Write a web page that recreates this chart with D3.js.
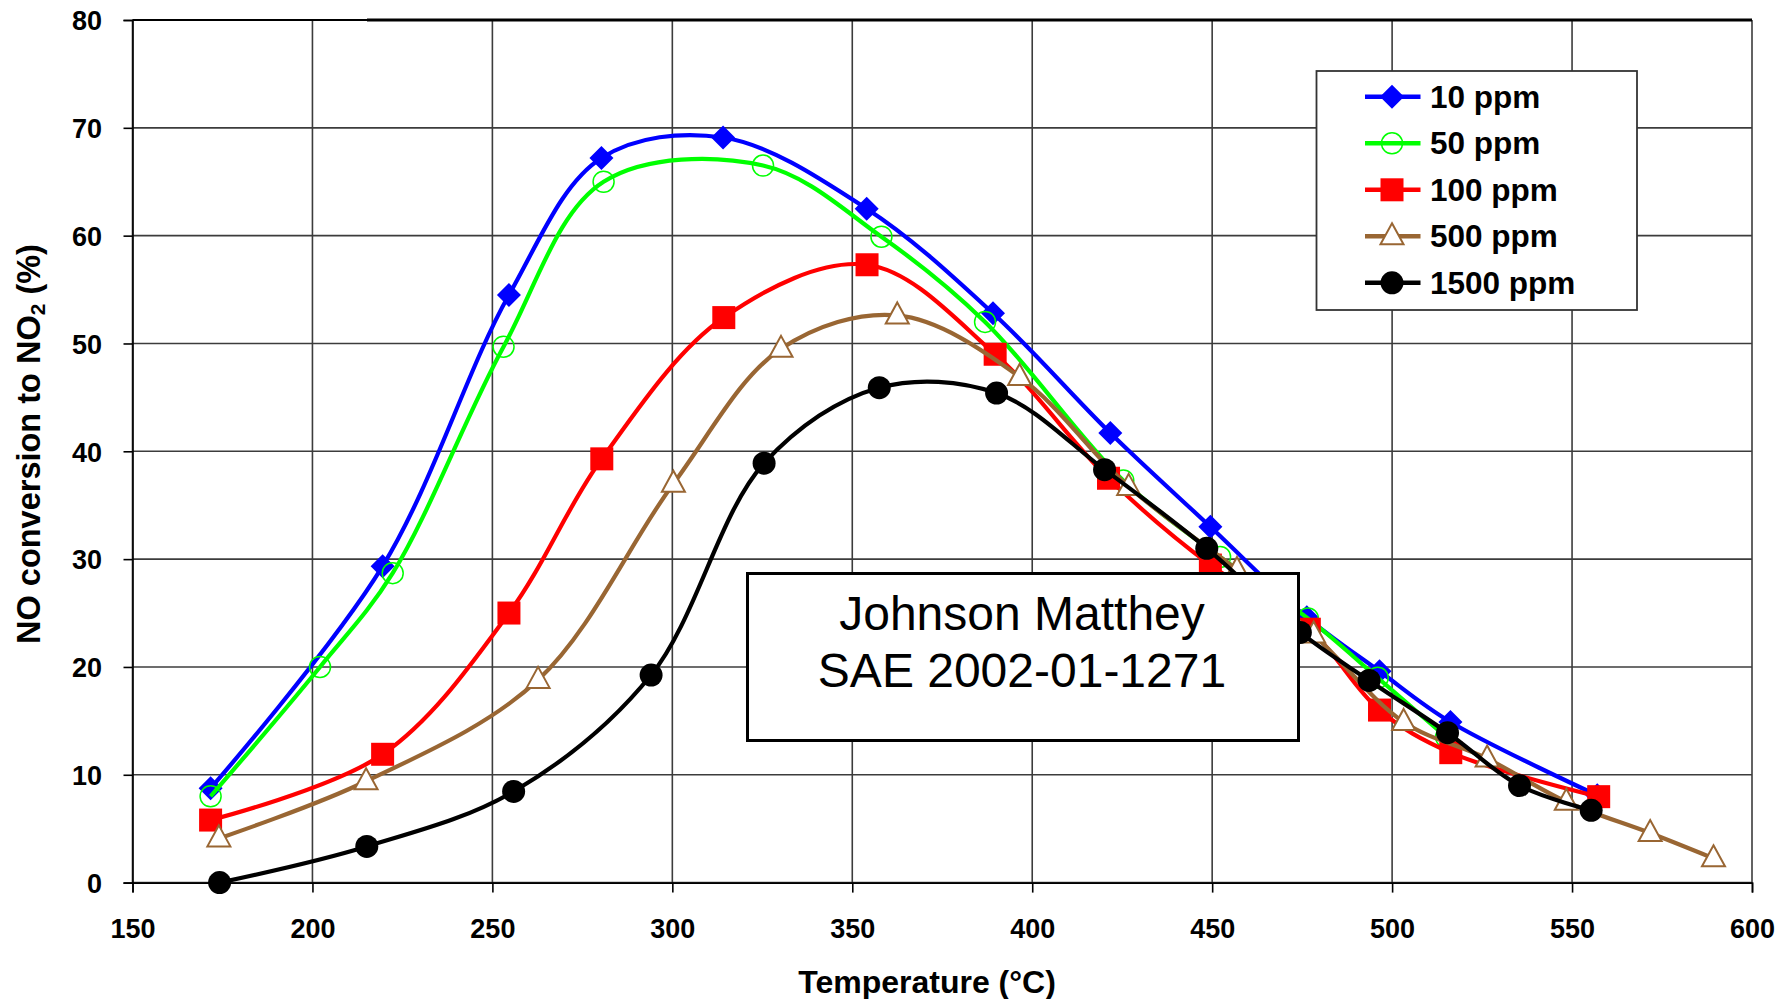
<!DOCTYPE html>
<html>
<head>
<meta charset="utf-8">
<script src="https://cdn.jsdelivr.net/npm/d3@7"></script>
<style>
  body { margin: 0; background: #fff; }
  text { font-family: "Liberation Sans", Arial, sans-serif; }
</style>
</head>
<body>
<div id="chart"></div>
<script>
// series (temperature in degC, conversion in %)
var seriesNames = ["10 ppm", "50 ppm", "100 ppm", "500 ppm", "1500 ppm"];

var temp10 = [171.7, 219.5, 254.6, 280.3, 314.1, 354.0, 389.1, 421.7, 449.5, 476.3, 496.5, 516.2, 557.0];
var conv10 = [8.75, 29.35, 54.5, 67.2, 69.1, 62.5, 52.8, 41.7, 33.0, 24.6, 19.6, 14.9, 8.1];

var temp50 = [171.7, 202.1, 222.3, 253.1, 280.9, 325.2, 358.1, 386.9, 425.3, 452.2, 476.6, 496.0, 515.0];
var conv50 = [8.0, 20.0, 28.7, 49.7, 65.0, 66.5, 59.9, 52.0, 37.3, 30.2, 24.5, 19.0, 13.5];

var temp100 = [171.7, 219.5, 254.6, 280.4, 314.3, 354.1, 389.7, 421.2, 449.5, 477.0, 496.5, 516.3, 557.4];
var conv100 = [5.8, 11.9, 25.0, 39.3, 52.4, 57.3, 49.0, 37.5, 29.45, 23.5, 16.0, 12.05, 7.97];

var temp500 = [174.0, 214.9, 262.7, 300.3, 330.2, 362.5, 396.5, 426.8, 456.9, 478.2, 503.2, 526.4, 548.4, 571.7, 589.3];
var conv500 = [4.1, 9.4, 18.8, 37.0, 49.5, 52.6, 46.9, 36.7, 29.0, 23.0, 14.9, 11.5, 7.5, 4.6, 2.25];

var temp1500 = [174.2, 215.1, 255.9, 294.1, 325.5, 357.5, 390.1, 420.1, 448.5, 474.5, 493.6, 515.4, 535.4, 555.3];
var conv1500 = [0.0, 3.35, 8.45, 19.25, 38.9, 45.9, 45.4, 38.3, 31.0, 23.2, 18.75, 13.9, 9.0, 6.7];

var xTicks = [150, 200, 250, 300, 350, 400, 450, 500, 550, 600];
var yTicks = [0, 10, 20, 30, 40, 50, 60, 70, 80];
var noteLines = ["Johnson Matthey", "SAE 2002-01-1271"];

// styles per series
var lineColors = ["#0000ff", "#00ff00", "#ff0000", "#996633", "#000000"];
var markerKinds = ["diamond", "ring", "square", "triangle", "dot"];

var width = 1788, height = 999;
var margin = {top: 20, right: 36, bottom: 116.4, left: 132.5};

var svg = d3.select("#chart").append("svg")
    .attr("width", width)
    .attr("height", height);

var x = d3.scaleLinear().domain([150, 600]).range([margin.left, width - margin.right]);
var y = d3.scaleLinear().domain([0, 80]).range([height - margin.bottom, margin.top]);

// grid
svg.append("g").selectAll("line").data(yTicks).join("line")
    .attr("x1", x(150)).attr("x2", x(600))
    .attr("y1", d => y(d)).attr("y2", d => y(d))
    .attr("stroke", "#3c3c3c").attr("stroke-width", 1.6);
svg.append("g").selectAll("line").data(xTicks).join("line")
    .attr("y1", y(0)).attr("y2", y(80))
    .attr("x1", d => x(d)).attr("x2", d => x(d))
    .attr("stroke", "#3c3c3c").attr("stroke-width", 1.6);

// top border is heavier in the original
svg.append("line")
    .attr("x1", x(150)).attr("x2", x(600))
    .attr("y1", y(80)).attr("y2", y(80))
    .attr("stroke", "#000").attr("stroke-width", 2);
svg.append("line")
    .attr("x1", 367).attr("x2", x(600))
    .attr("y1", y(80)).attr("y2", y(80))
    .attr("stroke", "#000").attr("stroke-width", 3);

// axes
var xAxis = svg.append("g")
    .attr("transform", "translate(0," + y(0) + ")")
    .call(d3.axisBottom(x).tickValues(xTicks).tickSize(10).tickPadding(26));
var yAxis = svg.append("g")
    .attr("transform", "translate(" + x(150) + ",0)")
    .call(d3.axisLeft(y).tickValues(yTicks).tickSize(9).tickPadding(21.5));

[xAxis, yAxis].forEach(function(g) {
  g.select(".domain").attr("stroke", "#000").attr("stroke-width", 1.6);
  g.selectAll(".tick line").attr("stroke", "#000").attr("stroke-width", 1.6);
  g.selectAll(".tick text")
      .attr("fill", "#000")
      .style("font-family", "'Liberation Sans', Arial, sans-serif")
      .style("font-size", "27px")
      .style("font-weight", "bold");
});
yAxis.selectAll(".tick text").attr("dy", "0.36em");

// axis titles
svg.append("text")
    .attr("x", 927).attr("y", 993)
    .attr("text-anchor", "middle")
    .style("font-size", "32px").style("font-weight", "bold")
    .text("Temperature (°C)");

var yTitle = svg.append("text")
    .attr("transform", "translate(40,444) rotate(-90)")
    .attr("text-anchor", "middle")
    .style("font-size", "32.5px").style("font-weight", "bold");
yTitle.append("tspan").text("NO conversion to NO");
yTitle.append("tspan").attr("dy", 5).style("font-size", "21px").text("2");
yTitle.append("tspan").attr("dy", -5).text(" (%)");

// marker drawing
function drawMarker(sel, kind, color) {
  if (kind == "diamond") {
    sel.append("path").attr("d", "M0,-12L12,0L0,12L-12,0Z").attr("fill", color);
  } else if (kind == "ring") {
    sel.append("circle").attr("r", 10.5).attr("fill", "none")
        .attr("stroke", color).attr("stroke-width", 1.5);
  } else if (kind == "square") {
    sel.append("rect").attr("x", -11.5).attr("y", -11.5)
        .attr("width", 23).attr("height", 23).attr("fill", color);
  } else if (kind == "triangle") {
    sel.append("path").attr("d", "M0,-13L11.5,8L-11.5,8Z")
        .attr("fill", "#fff").attr("stroke", color).attr("stroke-width", 2);
  } else {
    sel.append("circle").attr("r", 11.5).attr("fill", color);
  }
}

var allTemps = [temp10, temp50, temp100, temp500, temp1500];
var allConvs = [conv10, conv50, conv100, conv500, conv1500];

var line = d3.line()
    .x(d => x(d[0]))
    .y(d => y(d[1]))
    .curve(d3.curveCatmullRom);

seriesNames.forEach(function(name, i) {
  var pts = allTemps[i].map((t, j) => [t, allConvs[i][j]]);
  var g = svg.append("g");
  g.append("path")
      .attr("d", line(pts))
      .attr("fill", "none")
      .attr("stroke", lineColors[i])
      .attr("stroke-width", 4.2)
      .attr("stroke-linejoin", "round");
  g.selectAll("g").data(pts).join("g")
      .attr("transform", d => "translate(" + x(d[0]) + "," + y(d[1]) + ")")
      .each(function() { drawMarker(d3.select(this), markerKinds[i], lineColors[i]); });
});

// note box
svg.append("rect")
    .attr("x", 747.5).attr("y", 573.5)
    .attr("width", 551).attr("height", 167)
    .attr("fill", "#fff").attr("stroke", "#000").attr("stroke-width", 3);
svg.append("g").selectAll("text").data(noteLines).join("text")
    .attr("x", 1022).attr("y", (d, i) => 630 + i * 57)
    .attr("text-anchor", "middle")
    .style("font-size", "48px")
    .text(d => d);

// legend
var legend = svg.append("g");
legend.append("rect")
    .attr("x", 1316.5).attr("y", 71)
    .attr("width", 320.5).attr("height", 239)
    .attr("fill", "#fff").attr("stroke", "#333").attr("stroke-width", 1.8);
var rows = legend.selectAll("g").data(seriesNames).join("g")
    .attr("transform", (d, i) => "translate(0," + (96.8 + i * 46.5) + ")");
rows.append("line")
    .attr("x1", 1365).attr("x2", 1420.5)
    .attr("stroke", (d, i) => lineColors[i]).attr("stroke-width", 4.5);
rows.append("g")
    .attr("transform", "translate(1392,0)")
    .each(function(d, i) { drawMarker(d3.select(this), markerKinds[i], lineColors[i]); });
rows.append("text")
    .attr("x", 1430).attr("y", 11)
    .style("font-size", "31.5px").style("font-weight", "bold")
    .text(d => d);
</script>
</body>
</html>
